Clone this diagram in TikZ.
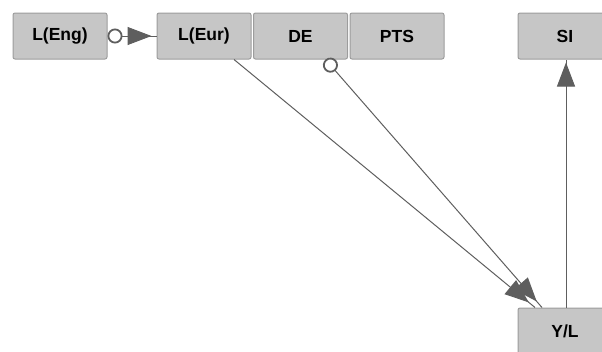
\documentclass[tikz,border=0pt]{standalone}
\usepackage{fontspec}
\setmainfont{Liberation Sans}
\usetikzlibrary{arrows.meta,decorations.markings}
\definecolor{boxfill}{HTML}{C6C6C6}
\definecolor{boxline}{HTML}{9C9C9C}
\definecolor{edgecol}{HTML}{5E5E5E}
\tikzset{
  vbox/.style={draw=boxline, fill=boxfill, rounded corners=2pt, line width=1pt,
    minimum width=94pt, minimum height=46pt, inner sep=0pt,
    font=\fontsize{17.5}{19}\selectfont\bfseries, text=black},
  edge/.style={draw=edgecol, line width=1pt},
  headat/.style={postaction={decorate}, decoration={markings,
    mark=at position #1 with {\arrow{Triangle[length=24pt,width=18pt,color=edgecol]}}}},
  ocirc/.style={{Circle[open,length=15pt,width=15pt,fill=white,color=edgecol,line width=1.8pt]}-},
}
\begin{document}
\begin{tikzpicture}[x=1pt,y=-1pt]
\useasboundingbox (0,0) rectangle (602,351);
\clip (0,0) rectangle (602,351);
\node[vbox] (Eng) at (60,36) {L(Eng)};
\node[vbox] (Eur) at (204,36) {L(Eur)};
\node[vbox] (DE)  at (300.5,36) {DE};
\node[vbox] (PTS) at (397,36) {PTS};
\node[vbox] (SI)  at (565,36) {SI};
\node[vbox] (YL)  at (565,331) {Y/L};
\draw[edge, ocirc, headat=-5pt] (Eng.east) -- (Eur.west);
\draw[edge, headat=-8pt] ([xshift=30pt]Eur.south) -- ([xshift=-30pt]YL.north);
\draw[edge, ocirc, headat=-8pt] ([xshift=25pt]DE.south) -- ([xshift=-23pt]YL.north);
\draw[edge, headat=-3pt] ([xshift=1pt]YL.north) -- ([xshift=1pt]SI.south);
\end{tikzpicture}
\end{document}
